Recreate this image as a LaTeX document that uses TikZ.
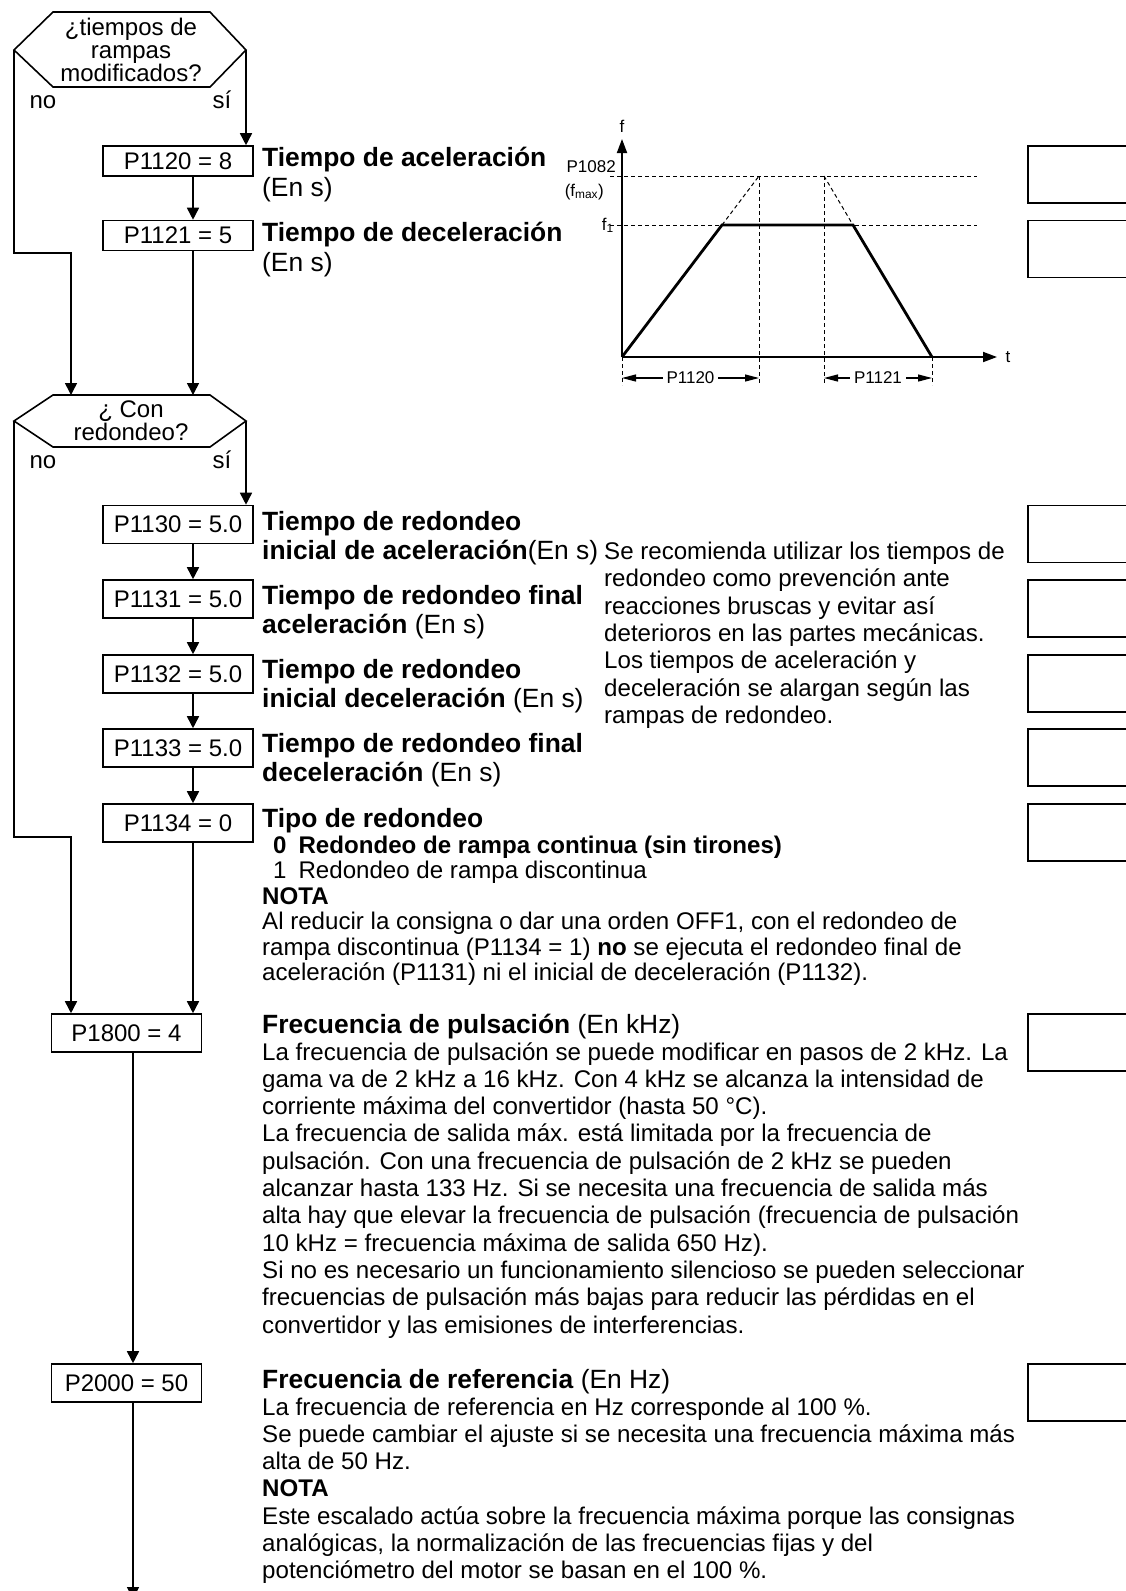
\documentclass[tikz,border=0pt]{standalone}
\usepackage{fontspec}
\setmainfont{Liberation Sans}
\usetikzlibrary{arrows.meta, positioning, calc}

\newcommand\boxsize{\fontsize{24}{23}\selectfont}
\newcommand\txtsize{\fontsize{24.1}{27.3}\selectfont}
\newcommand\ttlsize{\fontsize{26.4}{29.5}\selectfont}
\newcommand\plotsize{\fontsize{17}{17}\selectfont}

\tikzset{
  pbox/.style={draw, line width=1.6pt, minimum width=150pt, minimum height=38pt, inner sep=0pt, font=\boxsize},
  % multi-line nodes: the base anchor sits on the last line
  ttl/.style={anchor=base west, align=left, inner sep=0pt, font=\ttlsize},
  txt/.style={anchor=base west, align=left, inner sep=0pt, font=\txtsize},
  yn/.style={anchor=base, inner sep=0pt, font=\boxsize},
  wire/.style={line width=1.6pt},
  flow/.style={wire, -{Triangle[length=12pt,width=12pt]}},
  blank/.style={draw, line width=1.6pt, minimum width=130pt, minimum height=57pt, anchor=north west},
  axis/.style={line width=1.8pt, -{Triangle[length=14pt,width=10pt]}},
  ramp/.style={line width=2.8pt},
  guide/.style={line width=1pt, dash pattern=on 4pt off 3pt},
  dim/.style={line width=1.2pt, {Triangle[length=14pt,width=7pt]}-{Triangle[length=14pt,width=7pt]}},
  plotlbl/.style={inner sep=0pt, font=\plotsize},
}

\begin{document}
\begin{tikzpicture}[x=1pt, y=-1pt]
\useasboundingbox (0,0) rectangle (1125,1591);

% first question: ramp times changed?
\coordinate (q1w) at (14,50);
\coordinate (q1e) at (246,50);
\draw[wire] (q1w) -- (53,12) -- (210,12) -- (q1e) -- (210,87) -- (53,87) -- cycle;
\node[align=center, inner sep=0pt, font=\boxsize] (q1) at (131,50) {¿tiempos de\\rampas\\modificados?};
\node[yn] (no1) at (43,108) {no};
\node[yn] (si1) at (222,108) {sí};

% second question: with rounding?
\coordinate (q2w) at (14,421);
\coordinate (q2e) at (246,421);
\coordinate (q2n) at (131,395);
\draw[wire] (q2w) -- (53,395) -- (210,395) -- (q2e) -- (210,447) -- (53,447) -- cycle;
\node[align=center, inner sep=0pt, font=\boxsize] (q2) at (131,421) {¿ Con\\redondeo?};
\node[yn] (no2) at (43,468) {no};
\node[yn] (si2) at (222,468) {sí};

% parameter boxes
\node[pbox, minimum height=30pt] (p1120) at (178,161) {P1120 = 8};
\node[pbox, minimum height=30pt] (p1121) at (178,235.5) {P1121 = 5};
\node[pbox] (p1130) at (178,524.5) {P1130 = 5.0};
\node[pbox] (p1131) at (178,599) {P1131 = 5.0};
\node[pbox] (p1132) at (178,674) {P1132 = 5.0};
\node[pbox] (p1133) at (178,748) {P1133 = 5.0};
\node[pbox] (p1134) at (178,823) {P1134 = 0};
\node[pbox] (p1800) at (126.5,1033) {P1800 = 4};
\node[pbox] (p2000) at (126.5,1383) {P2000 = 50};

% flow lines
\coordinate (spine) at (193,0);
\coordinate (spine2) at (133,0);
\coordinate (skip1) at (71,253);
\coordinate (skip2) at (71,837);
\coordinate (out) at (133,1599);
\draw[flow] (q1e) -- (q1e |- p1120.north);
\draw[flow] (q1w) |- (skip1) -- (skip1 |- q2n);
\draw[flow] (p1120.south -| spine) -- (p1121.north -| spine);
\draw[flow] (p1121.south -| spine) -- (spine |- q2n);
\draw[flow] (q2e) -- (q2e |- p1130.north);
\draw[flow] (q2w) |- (skip2) -- (skip2 |- p1800.north);
\foreach \a/\b in {p1130/p1131, p1131/p1132, p1132/p1133, p1133/p1134} {
  \draw[flow] (\a.south -| spine) -- (\b.north -| spine);
}
\draw[flow] (p1134.south -| spine) -- (spine |- p1800.north);
\draw[flow] (p1800.south -| spine2) -- (p2000.north -| spine2);
\draw[flow] (p2000.south -| spine2) -- (out);

% empty boxes on the right
\coordinate (rightcol) at (1027,0);
\foreach \p in {p1120,p1121,p1130,p1131,p1132,p1133,p1134,p1800,p2000} {
  \node[blank] (r\p) at (\p.north -| rightcol) {};
}

% descriptions
\node[ttl] (t1120) at (262,196) {\textbf{Tiempo de aceleración}\\(En s)};
\node[ttl] (t1121) at (262,271) {\textbf{Tiempo de deceleración}\\(En s)};
\node[ttl] (t1130) at (262,559.5) {\textbf{Tiempo de redondeo}\\\textbf{inicial de aceleración}(En s)};
\node[txt] (hint) at (604,723.3) {Se recomienda utilizar los tiempos de\\
  redondeo como prevención ante\\
  reacciones bruscas y evitar así\\
  deterioros en las partes mecánicas.\\
  Los tiempos de aceleración y\\
  deceleración se alargan según las\\
  rampas de redondeo.};
\node[ttl] (t1131) at (262,633.5) {\textbf{Tiempo de redondeo final}\\\textbf{aceleración} (En s)};
\node[ttl] (t1132) at (262,707.5) {\textbf{Tiempo de redondeo}\\\textbf{inicial deceleración} (En s)};
\node[ttl] (t1133) at (262,781.5) {\textbf{Tiempo de redondeo final}\\\textbf{deceleración} (En s)};
\node[ttl] (t1134) at (262,827) {\textbf{Tipo de redondeo}};
\node[txt, font=\fontsize{24.1}{25.5}\selectfont] (n1134) at (262,980.5) {\hspace*{11pt}\textbf{0\hspace{12pt}Redondeo de rampa continua (sin tirones)}\\
  \hspace*{11pt}1\hspace{12pt}Redondeo de rampa discontinua\\
  \textbf{NOTA}\\
  Al reducir la consigna o dar una orden OFF1, con el redondeo de\\
  rampa discontinua (P1134 = 1) \textbf{no} se ejecuta el redondeo final de\\
  aceleración (P1131) ni el inicial de deceleración (P1132).};
\node[ttl] (t1800) at (262,1033) {\textbf{Frecuencia de pulsación} (En kHz)};
\node[txt] (n1800) at (262,1333) {La frecuencia de pulsación se puede modificar en pasos de 2 kHz. La\\
  gama va de 2 kHz a 16 kHz. Con 4 kHz se alcanza la intensidad de\\
  corriente máxima del convertidor (hasta 50 °C).\\
  La frecuencia de salida máx. está limitada por la frecuencia de\\
  pulsación. Con una frecuencia de pulsación de 2 kHz se pueden\\
  alcanzar hasta 133 Hz. Si se necesita una frecuencia de salida más\\
  alta hay que elevar la frecuencia de pulsación (frecuencia de pulsación\\
  10 kHz = frecuencia máxima de salida 650 Hz).\\
  Si no es necesario un funcionamiento silencioso se pueden seleccionar\\
  frecuencias de pulsación más bajas para reducir las pérdidas en el\\
  convertidor y las emisiones de interferencias.};
\node[ttl] (t2000) at (262,1388) {\textbf{Frecuencia de referencia} (En Hz)};
\node[txt] (n2000) at (262,1578.8) {La frecuencia de referencia en Hz corresponde al 100 \%.\\
  Se puede cambiar el ajuste si se necesita una frecuencia máxima más\\
  alta de 50 Hz.\\
  \textbf{NOTA}\\
  Este escalado actúa sobre la frecuencia máxima porque las consignas\\
  analógicas, la normalización de las frecuencias fijas y del\\
  potenciómetro del motor se basan en el 100 \%.};

% ramp diagram
\coordinate (o) at (622,357);
\draw[guide] (610,176) -- (977,176);
\draw[guide] (610,225) -- (977,225);
\draw[guide] (622,357) -- (622,385);
\draw[guide] (759,176) -- (759,385);
\draw[guide] (824,176) -- (824,385);
\draw[guide] (932,357) -- (932,385);
\draw[guide] (722,225) -- (759,176);
\draw[guide] (824,176) -- (853,225);
\draw[axis] (o) -- (622,139);
\draw[axis] (o) -- (997,357);
\draw[ramp, line join=miter] (o) -- (722,225) -- (853,225) -- (932,357);
\node[plotlbl] (flbl) at (622,126) {f};
\node[plotlbl] (tlbl) at (1008,357) {t};
\node[plotlbl, anchor=base east] (p1082lbl) at (616,172) {P1082};
\node[plotlbl, anchor=base east] (fmaxlbl) at (604,196) {(f\textsubscript{max})};
\node[plotlbl, anchor=base east] (fonelbl) at (614,230) {f\textsubscript{1}};
\draw[dim] (622,378) -- node[plotlbl, fill=white, inner xsep=4pt] (d1120) {P1120} (759,378);
\draw[dim] (824,378) -- node[plotlbl, fill=white, inner xsep=4pt] (d1121) {P1121} (932,378);
\end{tikzpicture}
\end{document}
